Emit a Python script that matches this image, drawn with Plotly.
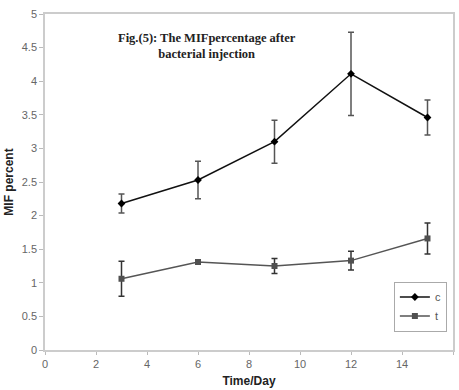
import plotly.graph_objects as go

days = [3, 6, 9, 12, 15]
c_vals = [2.18, 2.53, 3.10, 4.11, 3.46]
c_err = [0.14, 0.28, 0.32, 0.62, 0.26]
t_vals = [1.06, 1.31, 1.25, 1.33, 1.66]
t_err = [0.26, 0.03, 0.11, 0.14, 0.23]

x_ticks = [0, 2, 4, 6, 8, 10, 12, 14, 16]
y_ticks = [0, 0.5, 1, 1.5, 2, 2.5, 3, 3.5, 4, 4.5, 5]
y_ticktext = ["0", "0.5", "1", "1.5", "2", "2.5", "3", "3.5", "4", "4.5", "5"]

fig = go.Figure()
fig.add_trace(go.Scatter(
    x=days, y=c_vals, name="c", mode="lines+markers",
    line=dict(color="#111111", width=1.5),
    marker=dict(symbol="diamond", size=6, color="#000000"),
    error_y=dict(type="data", array=c_err, visible=True, color="#555555", thickness=1.5, width=3),
))
fig.add_trace(go.Scatter(
    x=days, y=t_vals, name="t", mode="lines+markers",
    line=dict(color="#555555", width=1.5),
    marker=dict(symbol="square", size=6, color="#505050"),
    error_y=dict(type="data", array=t_err, visible=True, color="#333333", thickness=1.5, width=3),
))

fig.update_layout(
    width=459, height=390,
    margin=dict(l=45, r=4, t=14, b=40),
    paper_bgcolor="white", plot_bgcolor="white",
    font=dict(family="Arial", size=11, color="#666666"),
    showlegend=True,
    legend=dict(
        x=0.985, y=0.055, xanchor="right", yanchor="bottom",
        bordercolor="#aaaaaa", borderwidth=1, bgcolor="white",
        font=dict(size=11, color="#555555"),
        itemwidth=30, tracegroupgap=0,
    ),
    annotations=[
        dict(text="<b>Fig.(5): The MIFpercentage after<br>bacterial injection</b>",
             x=(208 - 45) / 410, y=1 - (29 - 14) / 336, xref="paper", yref="paper", showarrow=False,
             font=dict(family="Liberation Serif", size=12.5, color="#222222"),
             align="center", xanchor="center", yanchor="top"),
    ],
)

fig.update_xaxes(
    range=[0, 16], tickvals=x_ticks, ticks="outside", ticklen=3, tickcolor="#bbbbbb",
    showline=True, linecolor="#cccccc", linewidth=1.5, mirror=True, showgrid=False, zeroline=False,
    title=dict(text="<b>Time/Day</b>", font=dict(size=12, color="#222222"), standoff=8),
    tickfont=dict(size=11, color="#666666"),
)
fig.update_yaxes(
    range=[0, 5], tickvals=y_ticks, ticktext=y_ticktext, ticks="outside", ticklen=4, tickcolor="#bbbbbb",
    showline=True, linecolor="#cccccc", linewidth=1.5, mirror=True, showgrid=False, zeroline=False,
    title=dict(text="<b>MIF percent</b>", font=dict(size=12, color="#222222"), standoff=6),
    tickfont=dict(size=11, color="#666666"),
)

fig.write_html("out.html")
